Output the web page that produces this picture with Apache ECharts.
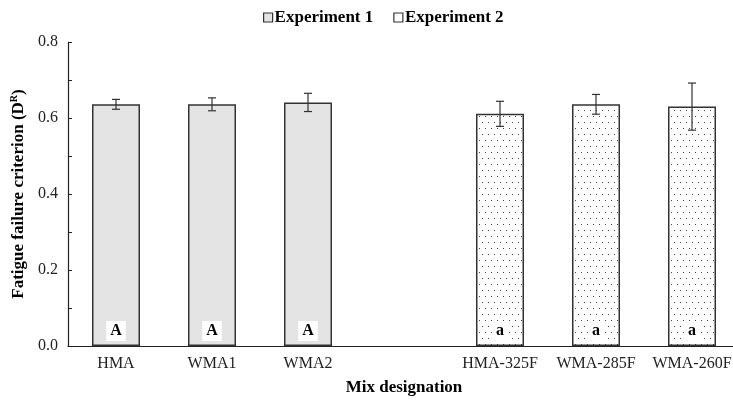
<!DOCTYPE html>
<html>
<head>
<meta charset="utf-8">
<script src="https://cdn.jsdelivr.net/npm/echarts@6/dist/echarts.min.js"></script>
<style>
  html, body { margin: 0; padding: 0; background: #fff; }
  #chart { width: 733px; height: 400px; }
</style>
</head>
<body>
<div id="chart"></div>
<script>
// Mix designations (empty slot separates the two experiments)
const categories = ['HMA', 'WMA1', 'WMA2', '', 'HMA-325F', 'WMA-285F', 'WMA-260F'];
// Mean fatigue failure criterion D^R
const exp1Values = [0.636, 0.636, 0.641, null, null, null, null];
const exp2Values = [null, null, null, null, 0.611, 0.636, 0.630];
// Standard deviation for error bars
const errors = [0.013, 0.017, 0.024, null, 0.033, 0.026, 0.062];
// Statistical grouping letters
const groupLetters = ['A', 'A', 'A', '', 'a', 'a', 'a'];
const yTicks = { min: 0, max: 0.8, step: 0.2 };

const FONT = '"Liberation Serif", "Times New Roman", serif';
const EDGE = '#333';

// dotted fill for the second experiment
function dotPattern() {
  const c = document.createElement('canvas');
  c.width = 6; c.height = 12;
  const ctx = c.getContext('2d');
  ctx.fillStyle = '#fff';
  ctx.fillRect(0, 0, 6, 12);
  ctx.fillStyle = '#444';
  ctx.fillRect(2, 2, 1, 1);
  ctx.fillRect(5, 8, 1, 1);
  return c;
}
const dots = { image: dotPattern(), repeat: 'repeat' };

const means = categories.map((_, i) => exp1Values[i] != null ? exp1Values[i] : exp2Values[i]);
const errData = [];
categories.forEach((_, i) => {
  if (means[i] != null && errors[i] != null) {
    errData.push([i, means[i] - errors[i], means[i] + errors[i]]);
  }
});

const chart = echarts.init(document.getElementById('chart'));

const letterLabel = {
  show: true,
  position: 'insideBottom',
  distance: 5,
  formatter: p => groupLetters[p.dataIndex],
  fontFamily: FONT,
  fontWeight: 'bold',
  fontSize: 16,
  color: '#000',
  backgroundColor: '#fff',
  padding: [2, 4, 2, 4]
};

chart.setOption({
  animation: false,
  textStyle: { fontFamily: FONT },
  legend: {
    top: 4,
    left: 258,
    itemWidth: 9,
    itemHeight: 9,
    itemGap: 20,
    icon: 'rect',
    textStyle: { fontFamily: FONT, fontWeight: 'bold', fontSize: 17, color: '#000', padding: [0, 0, 0, -3] },
    data: [
      { name: 'Experiment 1', itemStyle: { color: '#e4e4e4', borderColor: EDGE, borderWidth: 1.2 } },
      { name: 'Experiment 2', itemStyle: { color: '#fff', borderColor: EDGE, borderWidth: 1.2 } }
    ]
  },
  grid: { left: 68, right: -7, top: 42, bottom: 54, containLabel: false, outerBoundsMode: 'none' },
  xAxis: {
    type: 'category',
    data: categories,
    name: 'Mix designation',
    nameLocation: 'middle',
    nameGap: 33,
    nameTextStyle: { fontFamily: FONT, fontWeight: 'bold', fontSize: 17, color: '#000' },
    axisLine: { lineStyle: { color: '#222', width: 1.2 } },
    axisTick: { show: false },
    axisLabel: { interval: 0, hideOverlap: false, fontFamily: FONT, fontSize: 16, color: '#222', margin: 10 }
  },
  yAxis: {
    type: 'value',
    min: yTicks.min,
    max: yTicks.max,
    interval: yTicks.step,
    name: '{b|Fatigue failure criterion (D}{s|R}{b|)}',
    nameLocation: 'middle',
    nameGap: 38,
    nameTextStyle: {
      rich: {
        b: { fontFamily: FONT, fontWeight: 'bold', fontSize: 17, color: '#000' },
        s: { fontFamily: FONT, fontWeight: 'bold', fontSize: 10, color: '#000', verticalAlign: 'top', padding: [0, 0, 8, 0] }
      }
    },
    axisLine: { show: true, lineStyle: { color: '#222', width: 1.2 } },
    axisTick: { show: true, inside: true, length: 4, lineStyle: { color: '#222' } },
    minorTick: { show: true, splitNumber: 2, length: 4, lineStyle: { color: '#222' } },
    splitLine: { show: false },
    axisLabel: { fontFamily: FONT, fontSize: 16, color: '#222', margin: 10, formatter: v => v.toFixed(1) }
  },
  series: [
    {
      name: 'Experiment 1',
      type: 'bar',
      data: exp1Values,
      barWidth: 48,
      barGap: '-100%',
      itemStyle: { color: '#e4e4e4', borderColor: EDGE, borderWidth: 1.5 },
      label: letterLabel
    },
    {
      name: 'Experiment 2',
      type: 'bar',
      data: exp2Values,
      barWidth: 48,
      itemStyle: { color: dots, borderColor: EDGE, borderWidth: 1.5 },
      label: letterLabel
    },
    {
      name: 'error',
      type: 'custom',
      z: 10,
      data: errData,
      encode: { x: 0, y: [1, 2] },
      renderItem: (params, api) => {
        const x = api.value(0);
        const lo = api.coord([x, api.value(1)]);
        const hi = api.coord([x, api.value(2)]);
        const cap = 4;
        const style = { stroke: EDGE, lineWidth: 1.2 };
        return {
          type: 'group',
          children: [
            { type: 'line', shape: { x1: hi[0], y1: hi[1], x2: lo[0], y2: lo[1] }, style },
            { type: 'line', shape: { x1: hi[0] - cap, y1: hi[1], x2: hi[0] + cap, y2: hi[1] }, style },
            { type: 'line', shape: { x1: lo[0] - cap, y1: lo[1], x2: lo[0] + cap, y2: lo[1] }, style }
          ]
        };
      }
    }
  ]
});
</script>
</body>
</html>
